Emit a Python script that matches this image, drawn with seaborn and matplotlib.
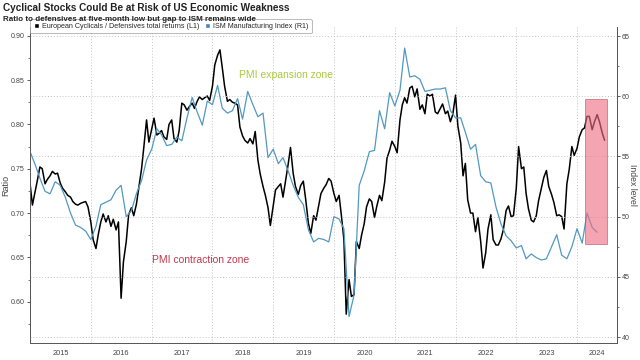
import numpy as np
import pandas as pd
import matplotlib
matplotlib.use("Agg")
import matplotlib.pyplot as plt
import matplotlib.dates as mdates
from matplotlib.patches import Patch, Rectangle
from matplotlib.ticker import MultipleLocator, FormatStrFormatter
import seaborn as sns

# European cyclicals / defensives ratio, 1st and 15th of each month from Jan 2015
ratio = [
    0.733, 0.709, 0.725, 0.738, 0.752, 0.750, 0.733, 0.738, 0.742, 0.747, 0.744, 0.745,
    0.734, 0.728, 0.724, 0.720, 0.718, 0.713, 0.710, 0.709, 0.711, 0.712, 0.713, 0.707,
    0.690, 0.670, 0.660, 0.676, 0.690, 0.699, 0.690, 0.697, 0.685, 0.693, 0.681, 0.690,
    0.604, 0.645, 0.668, 0.698, 0.706, 0.697, 0.710, 0.728, 0.750, 0.775, 0.805, 0.780,
    0.795, 0.807, 0.788, 0.790, 0.793, 0.786, 0.783, 0.800, 0.805, 0.784, 0.780, 0.793,
    0.824, 0.822, 0.816, 0.820, 0.824, 0.818, 0.826, 0.831, 0.828, 0.830, 0.832, 0.827,
    0.843, 0.867, 0.878, 0.884, 0.864, 0.843, 0.826, 0.828, 0.825, 0.824, 0.822, 0.797,
    0.787, 0.782, 0.779, 0.784, 0.778, 0.792, 0.760, 0.744, 0.730, 0.720, 0.706, 0.686,
    0.708, 0.726, 0.730, 0.733, 0.718, 0.735, 0.755, 0.774, 0.745, 0.730, 0.721, 0.731,
    0.736, 0.716, 0.688, 0.677, 0.697, 0.692, 0.708, 0.722, 0.728, 0.732, 0.739, 0.736,
    0.722, 0.713, 0.720, 0.697, 0.670, 0.586, 0.625, 0.606, 0.608, 0.668, 0.660, 0.675,
    0.688, 0.707, 0.716, 0.713, 0.695, 0.708, 0.720, 0.714, 0.735, 0.762, 0.771, 0.781,
    0.775, 0.768, 0.805, 0.822, 0.830, 0.824, 0.841, 0.843, 0.831, 0.840, 0.817, 0.822,
    0.812, 0.834, 0.832, 0.834, 0.814, 0.812, 0.818, 0.823, 0.812, 0.815, 0.803, 0.811,
    0.833, 0.798, 0.779, 0.742, 0.756, 0.715, 0.700, 0.700, 0.679, 0.695, 0.668, 0.638,
    0.655, 0.682, 0.698, 0.670, 0.664, 0.664, 0.671, 0.681, 0.703, 0.708, 0.696, 0.697,
    0.728, 0.775, 0.750, 0.752, 0.722, 0.705, 0.692, 0.690, 0.697, 0.714, 0.728, 0.740,
    0.748, 0.730, 0.721, 0.712, 0.697, 0.698, 0.696, 0.682, 0.733, 0.749, 0.775, 0.765,
    0.773, 0.786, 0.794, 0.796, 0.809, 0.809, 0.794, 0.803, 0.811, 0.803, 0.790, 0.782,
]

# ISM manufacturing index, monthly from Jan 2015
ism = [
    55.4, 54.3, 53.2, 52.1, 51.9, 52.9, 52.6, 51.6, 50.3, 49.3, 49.1, 48.8,
    48.1, 49.2, 51.0, 51.2, 51.4, 52.2, 52.6, 50.0, 50.5, 51.9, 53.0, 54.7,
    55.6, 57.3, 56.8, 55.9, 56.0, 56.6, 56.3, 58.2, 59.9, 58.7, 57.6, 59.6,
    59.3, 60.9, 59.0, 58.6, 58.8, 59.8, 58.1, 60.4, 59.3, 58.3, 58.6, 54.9,
    55.6, 54.4, 54.9, 53.8, 52.6, 51.6, 51.0, 48.9, 47.9, 48.2, 48.1, 47.9,
    50.0, 49.8, 49.0, 41.7, 43.5, 52.6, 53.8, 55.4, 55.5, 58.8, 57.3, 60.3,
    59.2, 60.5, 64.0, 61.6, 61.7, 61.4, 60.4, 60.5, 60.6, 60.6, 60.7, 58.8,
    58.2, 58.2, 57.0, 55.6, 56.0, 53.4, 52.9, 52.8, 50.8, 49.4, 48.4, 48.0,
    47.4, 47.6, 46.5, 46.9, 46.6, 46.4, 46.5, 47.5, 48.5, 46.8, 46.5, 47.5,
    49.0, 47.8, 50.3, 49.1, 48.7,
]

years = list(range(2015, 2025))
highlight_dates = ["2024-02-15", "2024-06-28"]
highlight_levels = [47.7, 59.8]

ratio_dates = pd.date_range("2015-01-01", periods=len(ratio), freq="SMS")
ism_dates = pd.date_range("2015-01-01", periods=len(ism), freq="MS")

black = "#000000"
blue = "#5299c0"
grid_c = "#c4c4c4"
txt_c = "#444444"

sns.set_style("white")
plt.rcParams["font.family"] = ["Liberation Sans", "DejaVu Sans"]

fig, ax = plt.subplots(figsize=(6.4, 3.6), dpi=100)
fig.subplots_adjust(left=0.047, right=0.964, bottom=0.047, top=0.925)
ax2 = ax.twinx()

sns.lineplot(x=ratio_dates, y=ratio, ax=ax, color=black, lw=1.1)
sns.lineplot(x=ism_dates, y=ism, ax=ax2, color=blue, lw=0.9)

x0 = pd.Timestamp("2015-01-01")
x1 = pd.Timestamp("2024-08-28")
ax.set_xlim(x0, x1)
ax.set_ylim(0.5534, 0.9098)
ax2.set_ylim(39.5, 65.75)

# left axis
ax.set_yticks(np.arange(0.60, 0.901, 0.05))
ax.yaxis.set_minor_locator(MultipleLocator(0.025))
ax.yaxis.set_major_formatter(FormatStrFormatter("%.2f"))
ax.set_ylabel("Ratio", fontsize=6.5, color=txt_c)
ax.yaxis.set_label_coords(-0.034, 0.5)

# right axis
ax2.set_yticks(np.arange(40, 66, 5))
ax2.yaxis.set_minor_locator(MultipleLocator(2.5))
ax2.set_ylabel("Index level", fontsize=6.2, color=txt_c, rotation=270,
               va="center", ha="center")
ax2.yaxis.set_label_coords(1.027, 0.5)

for a in (ax, ax2):
    a.tick_params(axis="y", which="major", labelsize=5.1, length=2.5, width=0.6,
                  colors=txt_c, pad=1.2)
    a.tick_params(axis="y", which="minor", length=1.5, width=0.5, colors=txt_c)
    for s in ("left", "right", "bottom"):
        a.spines[s].set_color("#555555")
        a.spines[s].set_linewidth(0.6)
    a.spines["top"].set_visible(False)
    a.set_xlabel("")

# x axis: year separators, quarter ticks, centred year labels
ax.xaxis.set_major_locator(mdates.YearLocator())
ax.xaxis.set_minor_locator(mdates.MonthLocator(bymonth=[4, 7, 10]))
ax.xaxis.set_major_formatter(plt.NullFormatter())
ax.tick_params(axis="x", which="major", length=16, width=0.6, color="#bdbdbd")
ax.tick_params(axis="x", which="minor", length=2, width=0.5, color=txt_c)
for y in years:
    a_ = max(pd.Timestamp(y, 1, 1), x0)
    b_ = min(pd.Timestamp(y + 1, 1, 1), x1)
    mid = a_ + (b_ - a_) / 2
    ax.text(mid, -0.022, str(y), transform=ax.get_xaxis_transform(),
            ha="center", va="top", fontsize=5.3, color=txt_c)

# grid
ax.grid(False)
ax2.grid(False)
ax.grid(axis="x", which="major", ls=(0, (1, 2)), color=grid_c, lw=0.7)
ax2.grid(axis="y", which="major", ls=(0, (1, 2)), color=grid_c, lw=0.7)

# zone labels
ax.text(pd.Timestamp("2018-06-10"), 0.856, "PMI expansion zone", fontsize=7.5,
        color="#a9c93e", va="center", ha="left")
ax.text(pd.Timestamp("2017-01-01"), 0.647, "PMI contraction zone", fontsize=7.5,
        color="#c23a4e", va="center", ha="left")

# highlight box
hx0 = mdates.date2num(pd.Timestamp(highlight_dates[0]))
hx1 = mdates.date2num(pd.Timestamp(highlight_dates[1]))
ax2.add_patch(Rectangle((hx0, highlight_levels[0]), hx1 - hx0,
                        highlight_levels[1] - highlight_levels[0],
                        facecolor="#ef6f84", alpha=0.62, edgecolor="#b8404f",
                        lw=0.6, zorder=5))

# legend
handles = [Patch(facecolor=black), Patch(facecolor="#3f86c4")]
labels = ["European Cyclicals / Defensives total returns (L1)",
          "ISM Manufacturing Index (R1)"]
leg = ax2.legend(handles, labels, loc="upper left", bbox_to_anchor=(0.0, 1.025),
                 ncol=2, fontsize=5.1, frameon=True, fancybox=True,
                 handlelength=0.8, handleheight=0.8, handletextpad=0.35,
                 columnspacing=0.8, borderpad=0.5, borderaxespad=0.0)
leg.get_frame().set_edgecolor("#9a9a9a")
leg.get_frame().set_linewidth(0.6)
leg.set_zorder(10)

# titles
fig.text(0.004, 0.992, "Cyclical Stocks Could Be at Risk of US Economic Weakness",
         fontsize=7.2, fontweight="bold", va="top", ha="left", color="#222222")
fig.text(0.004, 0.955, "Ratio to defensives at five-month low but gap to ISM remains wide",
         fontsize=5.75, fontweight="bold", va="top", ha="left", color="#222222")

fig.savefig("out.png", dpi=100)
